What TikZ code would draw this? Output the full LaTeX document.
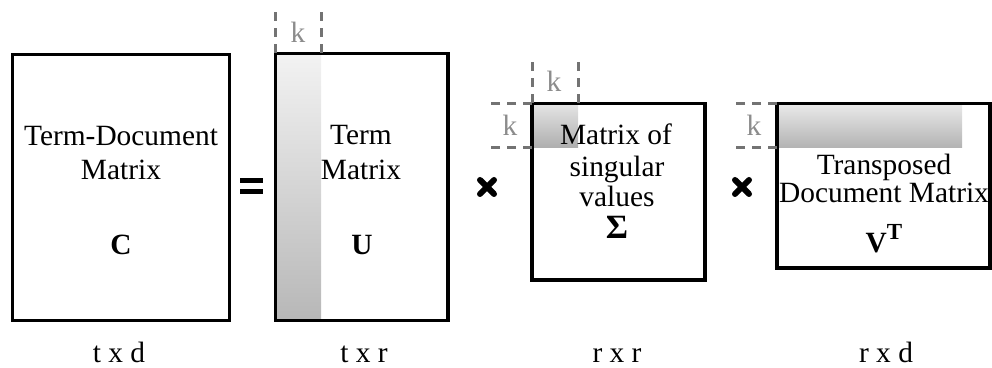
\documentclass[tikz,border=0pt]{standalone}
\usepackage{fontspec}
\setmainfont{Liberation Serif}
\tikzset{
  box/.style={draw=black, line width=1.75pt},
  kline/.style={draw=black!55, line width=1.5pt, dash pattern=on 4.5pt off 3.5pt},
  txt/.style={font=\fontsize{14.7}{17}\selectfont, inner sep=0pt, anchor=base},
  ktxt/.style={txt, text=black!45},
  btxt/.style={txt, font=\fontsize{14.7}{17}\selectfont\bfseries},
  timesx/.style={line width=3pt, line cap=round},
}
\begin{document}
\begin{tikzpicture}[x=0.5pt, y=-0.5pt]
\path[use as bounding box] (0,0) rectangle (992,368);

% gradient strips
\shade[top color=black!5, bottom color=black!28] (277,55) rectangle (321,319);
\shade[top color=black!10, bottom color=black!32] (532,103) rectangle (578,148);
\shade[top color=black!8, bottom color=black!30] (777,103) rectangle (962,148);

% matrices
\draw[box] (12.5,54.5) rectangle (229.5,320.5);
\draw[box] (275.5,53.5) rectangle (448,320.5);
\draw[box] (532,103.5) rectangle (705,280);
\draw[box] (777,103.5) rectangle (990,268);

% k brackets
\draw[kline] (275.5,53) -- (275.5,10);
\draw[kline] (321,53) -- (321,10);
\draw[kline] (532,103) -- (532,60);
\draw[kline] (578,103) -- (578,60);
\draw[kline] (532,103.5) -- (487,103.5);
\draw[kline] (532,148) -- (487,148);
\draw[kline] (777,103.5) -- (733,103.5);
\draw[kline] (777,148) -- (733,148);

\node[ktxt] (k1) at (298,43) {k};
\node[ktxt] (k2) at (554,92) {k};
\node[ktxt] (k3) at (510,136) {k};
\node[ktxt] (k4) at (754,136) {k};

% operators
\fill (240,178) rectangle (263,183.5);
\fill (240,189) rectangle (263,194.5);
\draw[timesx] (480,180) -- (494,194) (480,194) -- (494,180);
\draw[timesx] (735,180) -- (749,194) (735,194) -- (749,180);

% C
\node[txt] (c1) at (121,146) {Term-Document};
\node[txt] (c2) at (121,180) {Matrix};
\node[btxt] (c3) at (121,255) {C};
% U
\node[txt] (u1) at (361,145) {Term};
\node[txt] (u2) at (361,180) {Matrix};
\node[btxt] (u3) at (362,255) {U};
% Sigma
\node[txt] (s1) at (616,145) {Matrix of};
\node[txt] (s2) at (617,177) {singular};
\node[txt] (s3) at (617,207) {values};
\node[btxt, font=\fontsize{17}{17}\selectfont\bfseries] (s4) at (617,239) {Σ};
% V^T
\node[txt] (v1) at (884,175) {Transposed};
\node[txt] (v2) at (884,203) {Document Matrix};
\node[btxt] (v3) at (884,253) {V\raisebox{0.45em}{\fontsize{11.5}{11.5}\selectfont T}};

% dimensions
\node[txt] (d1) at (119,363) {t x d};
\node[txt] (d2) at (364,363) {t x r};
\node[txt] (d3) at (617,363) {r x r};
\node[txt] (d4) at (886,363) {r x d};
\end{tikzpicture}
\end{document}
